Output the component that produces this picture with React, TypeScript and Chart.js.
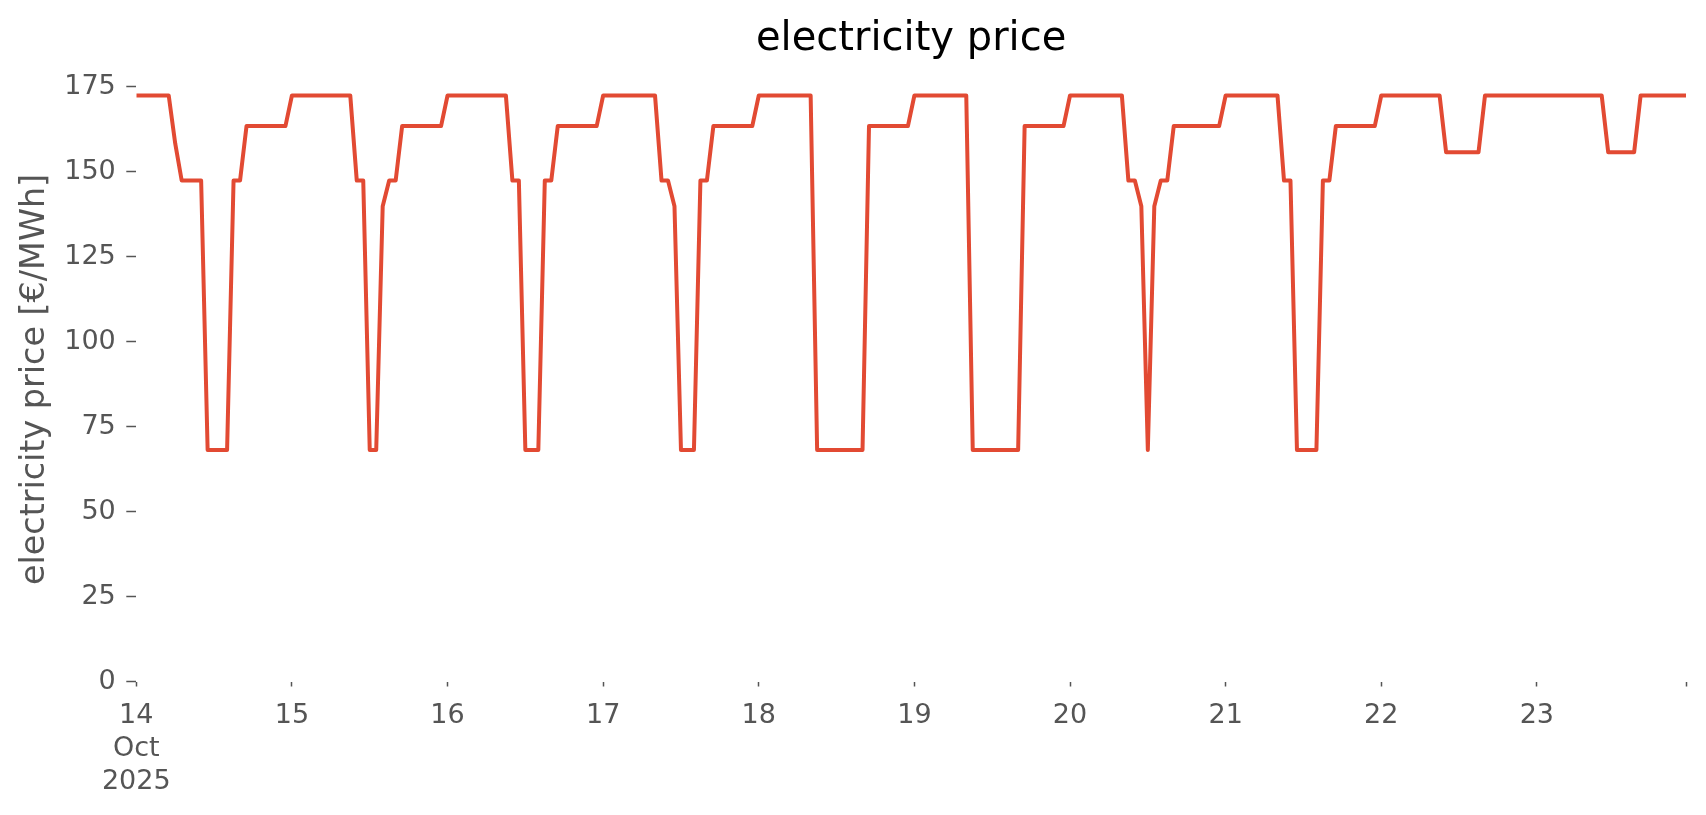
import React, { useEffect, useRef } from "react";
import { Chart, registerables } from "chart.js";

Chart.register(...registerables);

// Hourly electricity prices [€/MWh], one array per day (hours 00..23)
const oct14 = [172.4, 172.4, 172.4, 172.4, 172.4, 172.4, 158.3, 147.4, 147.4, 147.4, 147.4, 68.1, 68.1, 68.1, 68.1, 147.4, 147.4, 163.4, 163.4, 163.4, 163.4, 163.4, 163.4, 163.4];
const oct15 = [172.4, 172.4, 172.4, 172.4, 172.4, 172.4, 172.4, 172.4, 172.4, 172.4, 147.4, 147.4, 68.1, 68.1, 139.8, 147.4, 147.4, 163.4, 163.4, 163.4, 163.4, 163.4, 163.4, 163.4];
const oct16 = [172.4, 172.4, 172.4, 172.4, 172.4, 172.4, 172.4, 172.4, 172.4, 172.4, 147.4, 147.4, 68.1, 68.1, 68.1, 147.4, 147.4, 163.4, 163.4, 163.4, 163.4, 163.4, 163.4, 163.4];
const oct17 = [172.4, 172.4, 172.4, 172.4, 172.4, 172.4, 172.4, 172.4, 172.4, 147.4, 147.4, 139.8, 68.1, 68.1, 68.1, 147.4, 147.4, 163.4, 163.4, 163.4, 163.4, 163.4, 163.4, 163.4];
const oct18 = [172.4, 172.4, 172.4, 172.4, 172.4, 172.4, 172.4, 172.4, 172.4, 68.1, 68.1, 68.1, 68.1, 68.1, 68.1, 68.1, 68.1, 163.4, 163.4, 163.4, 163.4, 163.4, 163.4, 163.4];
const oct19 = [172.4, 172.4, 172.4, 172.4, 172.4, 172.4, 172.4, 172.4, 172.4, 68.1, 68.1, 68.1, 68.1, 68.1, 68.1, 68.1, 68.1, 163.4, 163.4, 163.4, 163.4, 163.4, 163.4, 163.4];
const oct20 = [172.4, 172.4, 172.4, 172.4, 172.4, 172.4, 172.4, 172.4, 172.4, 147.4, 147.4, 139.8, 68.1, 139.8, 147.4, 147.4, 163.4, 163.4, 163.4, 163.4, 163.4, 163.4, 163.4, 163.4];
const oct21 = [172.4, 172.4, 172.4, 172.4, 172.4, 172.4, 172.4, 172.4, 172.4, 147.4, 147.4, 68.1, 68.1, 68.1, 68.1, 147.4, 147.4, 163.4, 163.4, 163.4, 163.4, 163.4, 163.4, 163.4];
const oct22 = [172.4, 172.4, 172.4, 172.4, 172.4, 172.4, 172.4, 172.4, 172.4, 172.4, 155.7, 155.7, 155.7, 155.7, 155.7, 155.7, 172.4, 172.4, 172.4, 172.4, 172.4, 172.4, 172.4, 172.4];
const oct23 = [172.4, 172.4, 172.4, 172.4, 172.4, 172.4, 172.4, 172.4, 172.4, 172.4, 172.4, 155.7, 155.7, 155.7, 155.7, 155.7, 172.4, 172.4, 172.4, 172.4, 172.4, 172.4, 172.4, 172.4];

const days = [oct14, oct15, oct16, oct17, oct18, oct19, oct20, oct21, oct22, oct23];

// Tick labels
const dayTickLabels = ["14", "15", "16", "17", "18", "19", "20", "21", "22", "23"];
const firstTickExtraLines = ["Oct", "2025"];
const yTickValues = [0, 25, 50, 75, 100, 125, 150, 175];

const chartTitle = "electricity price";
const yAxisTitle = "electricity price [€/MWh]";
const lineColor = "#E24A33";

const FONT = "'DejaVu Sans', 'Liberation Sans', sans-serif";

// Title centred over the plotting area (as matplotlib does), not over the whole canvas
const axesTitlePlugin = {
  id: "axesTitle",
  afterDraw(chart: any) {
    const { ctx, chartArea } = chart;
    ctx.save();
    ctx.fillStyle = "#000000";
    ctx.font = `normal 40px ${FONT}`;
    ctx.textAlign = "center";
    ctx.textBaseline = "middle";
    ctx.fillText(chartTitle, (chartArea.left + chartArea.right) / 2, 39.5);
    ctx.restore();
  },
};

export default function App() {
  const canvasRef = useRef<HTMLCanvasElement | null>(null);

  useEffect(() => {
    if (!canvasRef.current) return;
    const prices = days.flat();
    const points = prices.map((y, i) => ({ x: i, y }));
    const lastX = prices.length - 1;
    const xTickValues = [...dayTickLabels.map((_, i) => i * 24), lastX];

    const chart = new Chart(canvasRef.current, {
      type: "line",
      data: {
        datasets: [
          {
            data: points,
            borderColor: lineColor,
            backgroundColor: lineColor,
            borderWidth: 4,
            pointRadius: 0,
            pointHoverRadius: 0,
            tension: 0,
            borderJoinStyle: "round",
            borderCapStyle: "butt",
            fill: false,
          },
        ],
      },
      plugins: [axesTitlePlugin],
      options: {
        animation: false,
        responsive: true,
        maintainAspectRatio: false,
        devicePixelRatio: 1,
        layout: { padding: { left: 0, right: 20, top: 77.5, bottom: 0 } },
        plugins: {
          legend: { display: false },
          tooltip: { enabled: false },
          title: { display: false, text: chartTitle },
        },
        scales: {
          x: {
            type: "linear",
            min: 0,
            max: lastX,
            offset: false,
            border: { display: false },
            grid: {
              drawOnChartArea: false,
              drawTicks: true,
              tickLength: 5,
              tickWidth: 1.5,
              tickColor: "#555555",
            },
            ticks: {
              autoSkip: false,
              maxRotation: 0,
              minRotation: 0,
              padding: 13,
              color: "#555555",
              font: { family: FONT, size: 27, lineHeight: 1.22 },
              callback: (value: any) => {
                const v = Number(value);
                if (v === 0) return [dayTickLabels[0], ...firstTickExtraLines];
                if (v % 24 === 0) return dayTickLabels[v / 24];
                return "";
              },
            },
            afterBuildTicks: (scale: any) => {
              scale.ticks = xTickValues.map((v) => ({ value: v }));
            },
            afterFit: (scale: any) => {
              scale.height = 133.5;
            },
          },
          y: {
            type: "linear",
            min: 0,
            max: 177.7,
            border: { display: false },
            grid: {
              drawOnChartArea: false,
              drawTicks: true,
              tickLength: 10,
              tickWidth: 1.5,
              tickColor: "#555555",
            },
            title: {
              display: true,
              text: yAxisTitle,
              color: "#555555",
              font: { family: FONT, size: 33.4, lineHeight: 1.2 },
              padding: { top: 15.5, bottom: 0 },
            },
            ticks: {
              autoSkip: false,
              padding: 10.5,
              color: "#555555",
              font: { family: FONT, size: 27 },
              callback: (value: any) => String(value),
            },
            afterBuildTicks: (scale: any) => {
              scale.ticks = yTickValues.map((v) => ({ value: v }));
            },
            afterFit: (scale: any) => {
              scale.width = 136.3;
            },
          },
        },
      },
    });

    return () => {
      chart.destroy();
    };
  }, []);

  return (
    <div
      style={{
        position: "fixed",
        left: 0,
        top: 0,
        width: "1706px",
        height: "815px",
        background: "#ffffff",
      }}
    >
      <canvas ref={canvasRef} />
    </div>
  );
}
